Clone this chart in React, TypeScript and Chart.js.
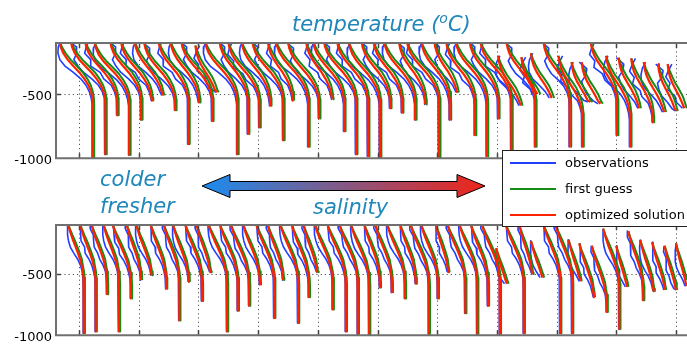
import React, { useEffect, useRef } from "react";
import { Chart, registerables } from "chart.js";
Chart.register(...registerables);

// ---------- axis values ----------
const X_MIN = -38.5;
const X_MAX = 1018.4;
const xGridValues = [0, 100, 200, 300, 400, 500, 600, 700, 800, 900, 1000];
const yTickValues = [-1000, -500];
const yGridValues = [-500];
const DEPTH_STEP = 50;

// ---------- temperature panel: stations (km), shift (km), start / end depth (m) ----------
const tempTail = [23, 44, 64, 84, 104, 122, 141, 161, 183, 201, 223, 233, 265, 283, 302, 320, 342, 358, 384, 402, 424, 444, 464, 484, 504, 521, 541, 563, 580, 603, 621, 635, 663, 683, 702, 724, 742, 764, 777, 797, 822, 843, 861, 878, 901, 923, 940, 961, 982, 1002, 1018];
const tempSpan = [56, 58, 54, 58, 52, 52, 48, 52, 50, 48, 52, 38, 54, 48, 52, 48, 52, 42, 54, 52, 44, 52, 54, 52, 52, 48, 48, 52, 44, 54, 48, 40, 48, 52, 48, 52, 40, 48, 36, 40, 44, 40, 36, 36, 44, 40, 36, 36, 36, 32, 32];
const tempTop = [-80, -80, -80, -90, -80, -80, -80, -90, -80, -80, -80, -120, -80, -80, -90, -80, -80, -80, -80, -90, -80, -80, -80, -80, -90, -80, -80, -80, -90, -80, -80, -80, -90, -80, -80, -80, -200, -90, -210, -180, -90, -200, -250, -250, -90, -200, -215, -220, -250, -265, -265];
const tempEnd = [-1000, -970, -665, -975, -700, -550, -510, -625, -890, -565, -710, -485, -970, -810, -760, -590, -860, -550, -910, -690, -540, -790, -970, -985, -990, -610, -645, -700, -580, -1000, -700, -485, -820, -985, -690, -985, -590, -910, -500, -530, -910, -910, -560, -575, -820, -910, -610, -720, -640, -630, -610];
const tempShape = [0, 0.04, 0.12, 0.25, 0.42, 0.6, 0.75, 0.87, 0.95, 0.99, 1];
const tempGuessOffset = [0, 2, 4, 5, 6, 6, 5, 4, 3, 2.5];
const tempObsOffsetA = [3, -4, -9, -13, -14, -10, -6, -4, -3, -2, -1];
const tempObsOffsetB = [-4, 7, 3, -9, -12, -13, -8, -4, -2, -1, -1];
const tempObsOffsetC = [7, 0, -7, -4, -13, -7, -9, -3, -2, -1, -1];

// ---------- salinity panel ----------
const salTail = [8, 28, 47, 67, 87, 104, 122, 146, 168, 184, 206, 221, 248, 266, 285, 303, 327, 342, 367, 385, 400, 425, 447, 467, 486, 504, 524, 546, 564, 586, 601, 620, 647, 667, 685, 705, 722, 745, 760, 782, 806, 826, 843, 863, 884, 905, 921, 945, 963, 983, 1002, 1020];
const salSpan = [27, 27, 27, 27, 31, 25, 27, 27, 27, 27, 29, 25, 32, 31, 31, 29, 31, 27, 31, 29, 25, 31, 32, 32, 31, 27, 29, 31, 27, 31, 29, 23, 31, 31, 29, 31, 23, 31, 23, 25, 29, 29, 23, 25, 25, 27, 21, 25, 23, 23, 21, 20];
const salTop = [-80, -80, -80, -80, -90, -80, -80, -80, -80, -90, -80, -80, -80, -80, -90, -80, -80, -80, -80, -90, -80, -80, -80, -80, -90, -80, -80, -80, -80, -90, -80, -80, -80, -80, -90, -80, -290, -80, -90, -230, -80, -80, -220, -250, -270, -130, -270, -150, -220, -240, -270, -250];
const salEnd = [-985, -970, -665, -970, -700, -550, -510, -620, -880, -565, -720, -485, -970, -800, -760, -585, -860, -550, -900, -690, -485, -790, -970, -990, -990, -610, -650, -700, -580, -990, -700, -485, -820, -990, -760, -990, -580, -985, -500, -530, -985, -985, -560, -690, -810, -950, -605, -715, -640, -630, -630, -600];
const salShape = [0, 0.1, 0.22, 0.35, 0.5, 0.64, 0.77, 0.87, 0.94, 0.98, 1];
const salGuessOffset = [0, 1, 2, 3, 3, 3, 3, 2, 2, 2, 2];
const salObsOffsetA = [0, -3, -6, -8, -9, -7, -4, -2, -1, -1, -1];
const salObsOffsetB = [1, -1, -4, -7, -5, -8, -5, -3, -2, -1, -1];
const salObsOffsetC = [-1, -4, -2, -5, -8, -6, -6, -3, -1, -1, -1];

const legendLabels = ["observations", "first guess", "optimized solution"];
const COLORS = { obs: "#2040ff", guess: "#168c16", opt: "#ff2200" };
const TEXT_BLUE = "#1f87b9";

type Pt = { x: number; y: number };
const at = (arr: number[], i: number) => arr[Math.min(i, arr.length - 1)];

function buildProfile(tail: number, span: number, top: number, end: number, shape: number[], offs: number[]): Pt[] {
  const pts: Pt[] = [];
  let k = 0;
  while (top - k * DEPTH_STEP > end) {
    pts.push({ x: tail - span * (1 - at(shape, k)) + at(offs, k), y: top - k * DEPTH_STEP });
    k++;
  }
  pts.push({ x: tail - span * (1 - at(shape, k)) + at(offs, k), y: end });
  return pts;
}

function ds(data: Pt[], color: string, width: number) {
  return { data, borderColor: color, borderWidth: width, pointRadius: 0, fill: false, tension: 0 };
}

function panelDatasets(tails: number[], spans: number[], tops: number[], ends: number[], shape: number[], guessOff: number[], obsOffs: number[][]) {
  const red: any[] = [], green: any[] = [], blue: any[] = [];
  tails.forEach((t, i) => {
    red.push(ds(buildProfile(t, spans[i], tops[i], ends[i], shape, [0]), COLORS.opt, 2.2));
    green.push(ds(buildProfile(t, spans[i], tops[i], ends[i], shape, guessOff), COLORS.guess, 2));
    blue.push(ds(buildProfile(t, spans[i], tops[i], ends[i], shape, obsOffs[i % obsOffs.length]), COLORS.obs, 1.6));
  });
  return [...red, ...green, ...blue];
}

const framePlugin = {
  id: "frame",
  beforeDatasetsDraw(chart: any) {
    const { ctx, chartArea: a, scales } = chart;
    const x = scales.x, y = scales.y;
    ctx.save();
    ctx.strokeStyle = "#555";
    ctx.lineWidth = 1;
    ctx.setLineDash([1.2, 3]);
    for (const v of xGridValues) {
      const px = Math.round(x.getPixelForValue(v)) + 0.5;
      ctx.beginPath(); ctx.moveTo(px, a.top); ctx.lineTo(px, a.bottom); ctx.stroke();
    }
    for (const v of yGridValues) {
      const py = Math.round(y.getPixelForValue(v)) + 0.5;
      ctx.beginPath(); ctx.moveTo(a.left, py); ctx.lineTo(a.right, py); ctx.stroke();
    }
    ctx.restore();
  },
  afterDatasetsDraw(chart: any) {
    const { ctx, chartArea: a, scales } = chart;
    const x = scales.x, y = scales.y;
    ctx.save();
    ctx.strokeStyle = "#444";
    ctx.lineWidth = 1.5;
    for (const v of xGridValues) {
      const px = Math.round(x.getPixelForValue(v)) + 0.5;
      ctx.beginPath(); ctx.moveTo(px, a.bottom); ctx.lineTo(px, a.bottom - 5); ctx.stroke();
      ctx.beginPath(); ctx.moveTo(px, a.top); ctx.lineTo(px, a.top + 5); ctx.stroke();
    }
    for (const v of yGridValues) {
      const py = Math.round(y.getPixelForValue(v)) + 0.5;
      ctx.beginPath(); ctx.moveTo(a.left, py); ctx.lineTo(a.left + 5, py); ctx.stroke();
    }
    ctx.strokeStyle = "#707070";
    ctx.lineWidth = 2;
    ctx.beginPath();
    ctx.moveTo(a.right + 5, a.top);
    ctx.lineTo(a.left, a.top);
    ctx.lineTo(a.left, a.bottom);
    ctx.lineTo(a.right + 5, a.bottom);
    ctx.stroke();
    ctx.restore();
  },
};

function makeChart(canvas: HTMLCanvasElement, datasets: any[], padTop: number, padBottom: number) {
  return new Chart(canvas, {
    type: "line",
    data: { datasets },
    options: {
      animation: false,
      responsive: false,
      maintainAspectRatio: false,
      devicePixelRatio: 1,
      events: [],
      layout: { padding: { top: padTop, bottom: padBottom, left: 0, right: 0 } },
      plugins: { legend: { display: false }, tooltip: { enabled: false } },
      elements: { point: { radius: 0 }, line: { tension: 0, borderJoinStyle: "round" } },
      scales: {
        x: { type: "linear", display: false, min: X_MIN, max: X_MAX },
        y: {
          type: "linear",
          min: -1000,
          max: -100,
          afterBuildTicks: (s: any) => { s.ticks = yTickValues.map((v) => ({ value: v })); },
          afterFit: (s: any) => { s.width = 56; },
          grid: { display: false, drawTicks: false },
          border: { display: false },
          ticks: { color: "#000", font: { family: "DejaVu Sans", size: 13 }, padding: 4, labelOffset: 2, callback: (v: any) => String(v) },
        },
      },
    } as any,
    plugins: [framePlugin],
  });
}

export default function App() {
  const topRef = useRef<HTMLCanvasElement>(null);
  const botRef = useRef<HTMLCanvasElement>(null);

  useEffect(() => {
    const c1 = makeChart(topRef.current!, panelDatasets(tempTail, tempSpan, tempTop, tempEnd, tempShape, tempGuessOffset, [tempObsOffsetA, tempObsOffsetB, tempObsOffsetC]), 43, 10);
    const c2 = makeChart(botRef.current!, panelDatasets(salTail, salSpan, salTop, salEnd, salShape, salGuessOffset, [salObsOffsetA, salObsOffsetB, salObsOffsetC]), 50, 5);
    return () => { c1.destroy(); c2.destroy(); };
  }, []);

  const label: React.CSSProperties = { position: "absolute", fontFamily: "DejaVu Sans", fontStyle: "italic", fontSize: 21, color: TEXT_BLUE, whiteSpace: "nowrap" };
  const legendColors = [COLORS.obs, COLORS.guess, COLORS.opt];
  const legendY = [163, 189, 215];

  return (
    <div style={{ position: "fixed", left: 0, top: 0, width: 687, height: 347, background: "#fff", overflow: "hidden" }}>
      <canvas ref={topRef} width={687} height={170} style={{ position: "absolute", left: 0, top: 0, width: 687, height: 170 }} />
      <canvas ref={botRef} width={687} height={172} style={{ position: "absolute", left: 0, top: 175, width: 687, height: 172 }} />
      <div style={{ ...label, left: 292, top: 14, lineHeight: "21px", height: 24 }}>
        temperature (<span style={{ fontSize: 14, position: "relative", top: -8 }}>o</span>C)
      </div>
      <div style={{ ...label, left: 100, top: 166, lineHeight: "27px" }}>
        colder<br />fresher
      </div>
      <div style={{ ...label, left: 313, top: 194, lineHeight: "27px" }}>salinity</div>
      <svg width={687} height={347} style={{ position: "absolute", left: 0, top: 0 }}>
        <defs>
          <linearGradient id="arrowGrad" gradientUnits="userSpaceOnUse" x1={202} y1={0} x2={485} y2={0}>
            <stop offset="0" stopColor="#1a8cf0" />
            <stop offset="1" stopColor="#f02418" />
          </linearGradient>
        </defs>
        <polygon
          points="202,186 230,174.5 230,181.5 457,181.5 457,174.5 485,186 457,197.5 457,190.5 230,190.5 230,197.5"
          fill="url(#arrowGrad)"
          stroke="#000"
          strokeWidth={1}
        />
      </svg>
      <div style={{ position: "absolute", left: 502, top: 150, width: 200, height: 77, boxSizing: "border-box", border: "1px solid #222", background: "#fff" }}>
        {legendLabels.map((t, i) => (
          <React.Fragment key={t}>
            <div style={{ position: "absolute", left: 7, top: legendY[i] - 151 - 1, width: 46, height: 2, background: legendColors[i] }} />
            <div style={{ position: "absolute", left: 62, top: legendY[i] - 151 - 8, lineHeight: "16px", fontFamily: "DejaVu Sans", fontSize: 13, color: "#000", whiteSpace: "nowrap" }}>{t}</div>
          </React.Fragment>
        ))}
      </div>
    </div>
  );
}
